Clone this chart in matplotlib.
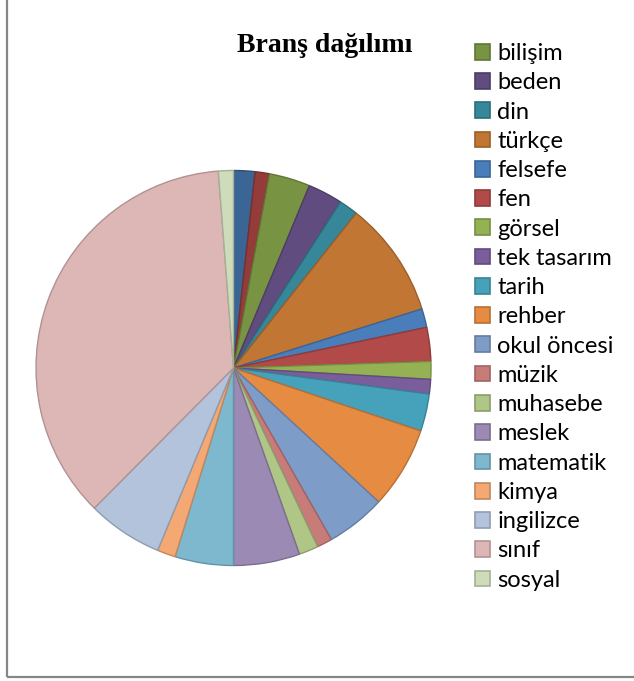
import matplotlib
matplotlib.use('Agg')
import matplotlib.pyplot as plt
from matplotlib.patches import Rectangle, Patch
import matplotlib.colors as mcolors

# values (relative sizes); first two slices have no legend entry
labels = ['', '', 'bilişim', 'beden', 'din', 'türkçe', 'felsefe', 'fen', 'görsel',
          'tek tasarım', 'tarih', 'rehber', 'okul öncesi', 'müzik', 'muhasebe',
          'meslek', 'matematik', 'kimya', 'ingilizce', 'sınıf', 'sosyal']
values = [6.3, 4.2, 12.1, 10.2, 5.6, 34.2, 5.5, 10.0, 5.2,
          4.3, 11.0, 24.1, 17.6, 4.5, 5.7,
          19.5, 17.2, 5.4, 22.2, 130.8, 4.4]
colors = ['#3A6595', '#943C3A', '#789443', '#604C7E', '#37879A', '#C27634',
          '#4A7EBB', '#B14A48', '#94B254', '#7A5E9B', '#46A2BA', '#E68B42',
          '#7E9CC8', '#C87C7A', '#AFC686', '#9B8AB3', '#7DB8CE', '#F4A874',
          '#B3C3DC', '#DDB6B6', '#CFDCBC']


def darker(c, f=0.8):
    r, g, b = mcolors.to_rgb(c)
    return (r * f, g * f, b * f)


fig = plt.figure(figsize=(6.34, 6.81), dpi=100)

# outer frame
fig.patches.append(Rectangle((6.5 / 634, 4.5 / 681), 630 / 634, 678 / 681,
                             transform=fig.transFigure, fill=False,
                             edgecolor='#868686', linewidth=1.6))

cx, cy, r = 233.5, 368, 197.5
ax = fig.add_axes([(cx - r) / 634, (681 - cy - r) / 681, 2 * r / 634, 2 * r / 681])
wedges, _ = ax.pie(values, colors=colors, startangle=90, counterclock=False,
                   wedgeprops=dict(linewidth=1.0))
for w, c in zip(wedges, colors):
    w.set_edgecolor(darker(c))
ax.set_xlim(-1, 1)
ax.set_ylim(-1, 1)

fig.text(325 / 634, 1 - 45 / 681, 'Branş dağılımı', ha='center', va='center',
         fontsize=20, fontweight='bold', family='Liberation Serif')

# legend (first two categories are not listed)
handles = [Patch(facecolor=c, edgecolor=darker(c), linewidth=1.2)
           for c in colors[2:]]
leg = fig.legend(handles, labels[2:], loc='upper left',
                 bbox_to_anchor=(475 / 634, 1 - 43 / 681), frameon=False,
                 prop={'family': 'Lato', 'size': 17}, handlelength=0.65,
                 handleheight=0.65, handletextpad=0.3, labelspacing=0.35,
                 borderpad=0, borderaxespad=0)

fig.savefig('out.png', dpi=100)
